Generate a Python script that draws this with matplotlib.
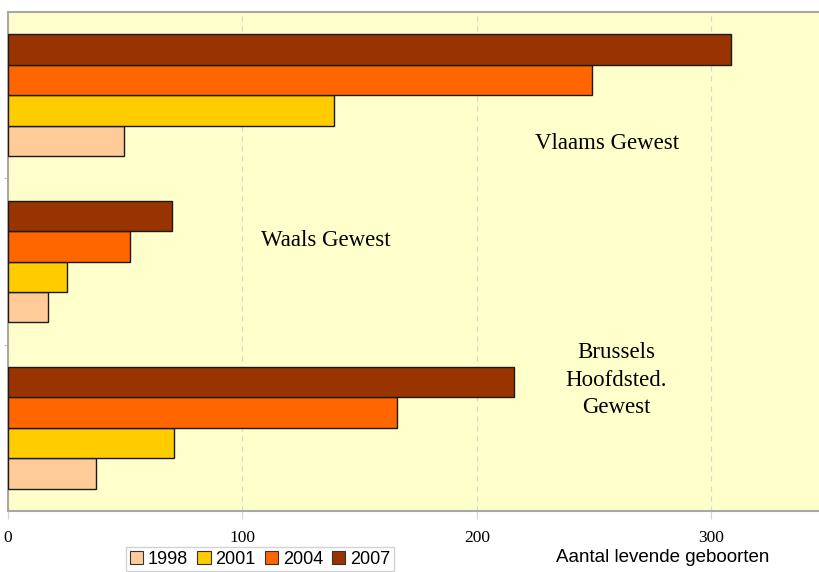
import matplotlib
matplotlib.use("Agg")
import matplotlib.pyplot as plt
import numpy as np
from matplotlib.patches import Patch

regions = ["Vlaams Gewest", "Waals Gewest", "Brussels\nHoofdsted.\nGewest"]
years = ["1998", "2001", "2004", "2007"]
v1998 = [49.5, 17, 37.5]
v2001 = [139, 25, 71]
v2004 = [249, 52, 166]
v2007 = [308.5, 70, 216]
series = [v1998, v2001, v2004, v2007]
colors = ["#FFCC99", "#FFCC00", "#FF6600", "#993300"]
xticks = [0, 100, 200, 300]

fig = plt.figure(figsize=(8.19, 5.72), dpi=100)
ax = fig.add_axes([8/819, 1-511/572, 1-8/819, (511-12)/572])
ax.set_facecolor("#FFFFCC")

w = 0.183
y = np.arange(len(regions))
offsets = [1.5*w, 0.5*w, -0.5*w, -1.5*w]
for vals, off, c in zip(series, offsets, colors):
    ax.barh(y + off, vals, height=w, color=c, edgecolor="#1a1a1a", linewidth=1.0, zorder=3)

ax.set_ylim(2.5, -0.5)
ax.set_xlim(0, 346)
ax.set_xticks(xticks)
ax.set_xticklabels([str(t) for t in xticks], family="Liberation Serif", fontsize=12.5)
ax.tick_params(axis="x", length=6, color="#d8d8c0", pad=8)
ax.set_yticks([0.5, 1.5])
ax.set_yticklabels([])
ax.tick_params(axis="y", length=3, color="#c0c0c0", direction="out")
ax.grid(axis="x", linestyle=(0, (4, 4)), color="#d8d8c0", linewidth=0.9, zorder=0)
for s in ["top", "bottom", "left"]:
    ax.spines[s].set_color("#a8a8a8")
    ax.spines[s].set_linewidth(1.5)
ax.spines["right"].set_visible(False)

label_pos = [(255.6, 0.288), (135.7, 0.871), (259.5, 1.713)]
for name, (xv, yv) in zip(regions, label_pos):
    ax.text(xv, yv, name, ha="center", va="center", family="Liberation Serif",
            fontsize=16.5, linespacing=1.4, zorder=4)

handles = [Patch(facecolor=c, edgecolor="#333333", linewidth=0.8) for c in colors]
leg = fig.legend(handles, years, loc="center", bbox_to_anchor=(260/819, 1-559/572),
                 ncol=4, frameon=True, fancybox=False, edgecolor="#c8c8c8",
                 prop={"family": "Liberation Sans", "size": 13},
                 handlelength=0.75, handleheight=0.75, handletextpad=0.25,
                 columnspacing=0.5, borderpad=0.2, borderaxespad=0)
leg.get_frame().set_linewidth(1.0)

fig.text(663/819, 1-558/572, "Aantal levende geboorten", ha="center", va="center",
         family="Liberation Sans", fontsize=13.5)

fig.savefig("out.png", dpi=100, facecolor="white")
